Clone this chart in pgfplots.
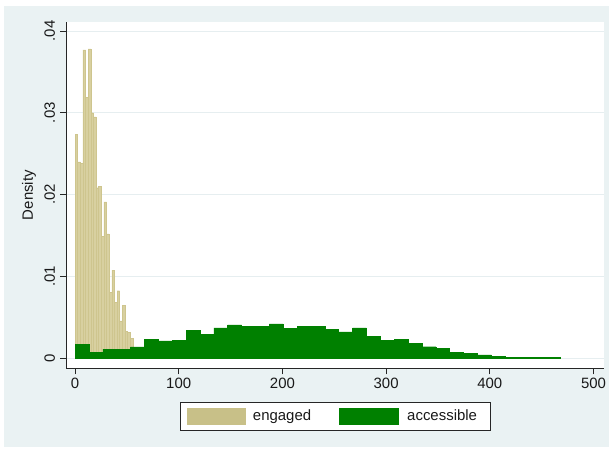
\documentclass[border=0pt]{standalone}
\usepackage{fontspec}
\setmainfont{Liberation Sans}
\usepackage{pgfplots}
\pgfplotsset{compat=1.18}
\definecolor{bgc}{RGB}{234,242,243}
\definecolor{gridc}{RGB}{230,238,240}
\definecolor{khakif}{RGB}{216,208,160}
\definecolor{khakid}{RGB}{206,197,142}
\definecolor{khakileg}{RGB}{200,192,136}
\definecolor{sgreen}{RGB}{0,128,0}
\begin{document}
\begin{tikzpicture}[x=1bp,y=1bp]
\fill[white] (0,0) rectangle (613,451);
\fill[bgc] (4,4) rectangle (609,445);
\begin{axis}[
  at={(66bp,82.7bp)}, anchor=south west,
  scale only axis, width=538bp, height=346.3bp,
  xmin=-8.68, xmax=510.1, ymin=-0.00126, ymax=0.0411,
  axis x line*=bottom, axis y line*=left,
  axis line style={black!85, line width=0.8bp},
  axis background/.style={fill=white},
  tick align=outside, major tick length=6bp,
  tick style={black!85, line width=0.7bp},
  xtick={0,100,200,300,400,500},
  ytick={0,0.01,0.02,0.03,0.04},
  yticklabels={0,.01,.02,.03,.04},
  scaled y ticks=false,
  /pgf/number format/assume math mode=true,
  every tick label/.append style={font=\fontsize{15}{18}\selectfont, text=black!90},
  y tick label style={rotate=90, anchor=south, yshift=1.5bp},
  ylabel={Density},
  ylabel style={font=\fontsize{15}{18}\selectfont, text=black!90, yshift=1.5bp},
  ymajorgrids, major grid style={gridc, line width=0.9bp},
  legend columns=2,
  legend style={at={(0.5,-0.098)}, anchor=north, draw=black!85, line width=0.7bp,
    font=\fontsize{15}{18}\selectfont, text=black!90,
    inner xsep=0bp, inner ysep=5.5bp,
    nodes={inner xsep=0bp, inner ysep=2bp},
    /tikz/every even column/.append style={column sep=0bp}},
]
\addplot[ybar interval, fill=khakif, draw=khakid, line width=0.4bp,
  legend image code/.code={\path (-6.5bp,0) (66bp,0);\fill[khakileg] (0bp,-7.85bp) rectangle (58bp,7.85bp);}]
coordinates {
(0,0.02736) (2.532,0.02398) (5.064,0.02377) (7.596,0.03768) (10.128,0.03189)
(12.66,0.0378) (15.192,0.0300) (17.724,0.02948) (20.256,0.02083) (22.788,0.02096)
(25.32,0.01484) (27.852,0.0191) (30.384,0.01517) (32.916,0.00803) (35.448,0.01076)
(37.98,0.00677) (40.512,0.00823) (43.044,0.00453) (45.576,0.00648) (48.108,0.00322)
(50.64,0.0031) (53.172,0.00241) (55.704,0.00241)
};
\addlegendentry{engaged}
\addplot[ybar interval, fill=sgreen, draw=sgreen, line width=0.4bp,
  legend image code/.code={\path (-28bp,0) (67.7bp,0);\fill[sgreen] (0bp,-7.85bp) rectangle (59bp,7.85bp);}]
coordinates {
(0,0.00171) (13.38,0.00065) (26.76,0.00110) (40.14,0.00102) (53.52,0.00135)
(66.9,0.00224) (80.28,0.00210) (93.66,0.00220) (107.04,0.00334) (120.42,0.00285)
(133.8,0.00367) (147.18,0.00404) (160.56,0.00383) (173.94,0.00383) (187.32,0.00416)
(200.7,0.00359) (214.08,0.00383) (227.46,0.00383) (240.84,0.00351) (254.22,0.00318)
(267.6,0.00367) (280.98,0.00261) (294.36,0.00220) (307.74,0.00229) (321.12,0.00180)
(334.5,0.00138) (347.88,0.00122) (361.26,0.00073) (374.64,0.00061) (388.02,0.00037)
(401.4,0.00024) (414.78,0.00012) (428.16,0.00008) (441.54,0.00006) (454.92,0.00006)
(468.3,0.00006)
};
\addlegendentry{\makebox[82.7bp][l]{accessible}}
\end{axis}
\end{tikzpicture}
\end{document}
